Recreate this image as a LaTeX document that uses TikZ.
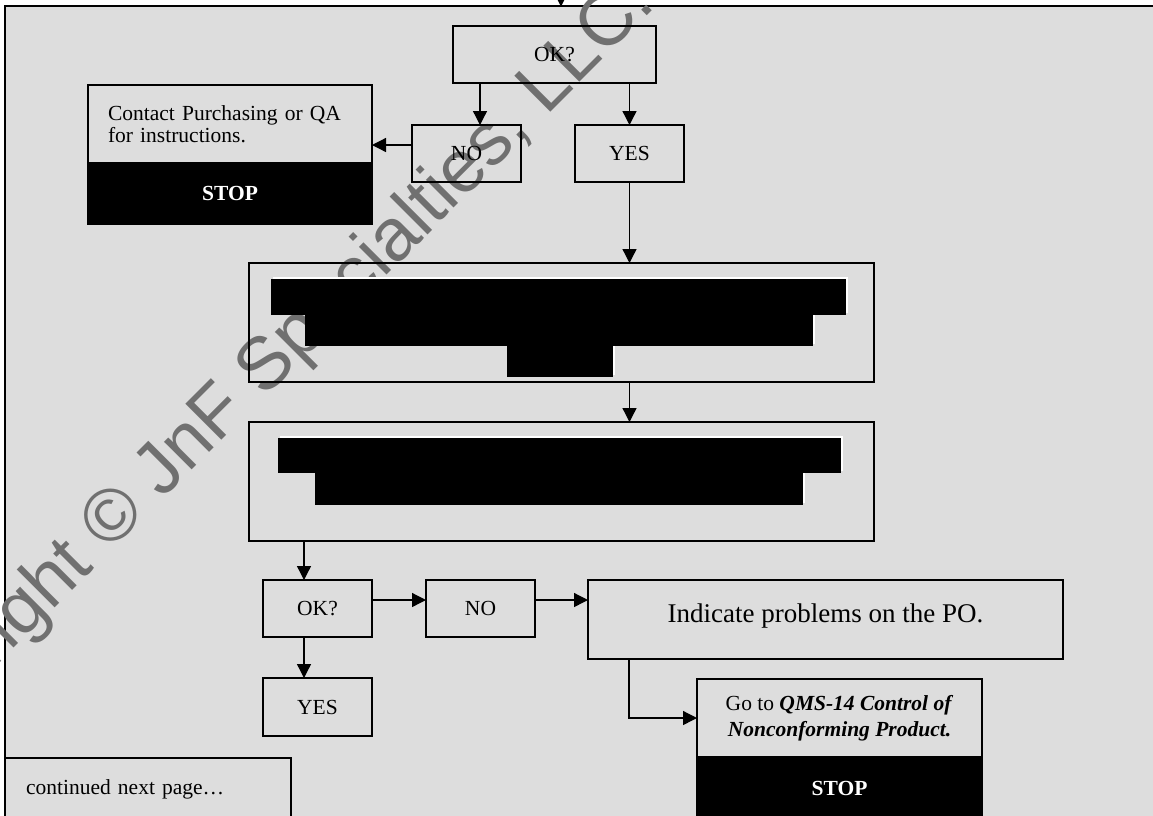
\documentclass[tikz,border=0pt]{standalone}
\usepackage{fontspec}
\setmainfont{Liberation Serif}
\newfontfamily\wmfont{Liberation Sans}
\usetikzlibrary{arrows.meta}
\definecolor{bggray}{RGB}{221,221,221}
\definecolor{wmgray}{RGB}{112,112,112}
\newcommand\bodyfont{\fontsize{21.5}{22}\selectfont}
\begin{document}
\begin{tikzpicture}[x=1pt,y=-1pt,
  box/.style={draw, line width=1.5pt, inner sep=0pt, outer sep=0pt, font=\bodyfont},
  smallbox/.style={box, minimum width=109pt, minimum height=57pt},
  blackbox/.style={draw, fill=black, text=white, line width=1.5pt, inner sep=0pt, outer sep=0pt, font=\bodyfont\bfseries},
  arr/.style={line width=1.3pt, -{Triangle[length=14pt,width=14pt]}},
  shade/.style={fill=white},
  redact/.style={fill=black}]
\useasboundingbox (0,0) rectangle (1153,815);
\clip (0,0) rectangle (1153,815);
\fill[white] (0,0) rectangle (1153,815);
\fill[bggray] (5,6) rectangle (1160,820);
\draw[line width=1.5pt] (5,820) -- (5,6) -- (1160,6);

% watermark
\node[anchor=base west, rotate=45, inner sep=0pt, text=wmgray,
      font=\wmfont\fontsize{74}{74}\selectfont] (wm) at (-129,791.5)
      {Copyright © JnF Specialties, LLC.};

% top section
\node[box, minimum width=203pt, minimum height=57pt] (ok1) at (554.5,54.5) {OK?};
\node[smallbox] (no1) at (466.5,153.5) {NO};
\node[smallbox] (yes1) at (629.5,153.5) {YES};
\node[box, text width=244pt, inner xsep=20pt, align=left, minimum height=78pt] (cont) at (230,124)
  {Contact Purchasing or QA\\for instructions.};
\node[blackbox, minimum width=284pt, minimum height=61pt, anchor=north] (cstop) at (cont.south) {STOP};

% big boxes
\node[box, minimum width=625pt, minimum height=119pt] (big1) at (561.5,322.5) {};
\node[box, minimum width=625pt, minimum height=119pt] (big2) at (561.5,481.5) {};
\foreach \a/\b/\c/\d in {271/279/846/315, 305/315/813/346, 507/346/613/377,
                         278/438/841/473, 315/473/803/505}
  \fill[shade] (\a+2,\b-2) rectangle (\c+2,\d-2);
\foreach \a/\b/\c/\d in {271/279/846/315, 305/315/813/346, 507/346/613/377,
                         278/438/841/473, 315/473/803/505}
  \fill[redact] (\a,\b) rectangle (\c,\d);

% bottom section
\node[smallbox] (ok2) at (317.5,608.5) {OK?};
\node[smallbox, minimum height=58pt] (yes2) at (317.5,707) {YES};
\node[smallbox] (no2) at (480.5,608.5) {NO};
\node[box, minimum width=475pt, minimum height=79pt, font=\fontsize{27}{30}\selectfont,
      text height=18.4pt, text depth=13pt] (ind) at (825.5,619.5) {Indicate problems on the PO.};
\node[box, minimum width=285pt, minimum height=78pt, align=center,
      font=\fontsize{21.5}{26}\selectfont] (goto) at (839.5,718)
  {Go to \textbf{\textit{QMS-14 Control of}}\\\textbf{\textit{Nonconforming Product.}}};
\node[blackbox, minimum width=285pt, minimum height=62pt, anchor=north] (gstop) at (goto.south) {STOP};
\node[box, anchor=north west, text width=244pt, inner xsep=21pt, align=left,
      minimum height=72pt, text height=14.7pt, text depth=14.7pt] (next) at (5,758)
  {continued next page…};

% connectors
\coordinate (prev) at (561,-8);
\coordinate (prevend) at (561,6.5);
\draw[arr] (prev) -- (prevend);
\coordinate (nox) at (480,0);
\draw[arr] (ok1.south -| nox) -- (no1.north -| nox);
\draw[arr] (ok1.south -| yes1.north) -- (yes1.north);
\coordinate (noy) at (0,145);
\draw[arr] (no1.west |- noy) -- (cont.east |- noy);
\draw[arr] (yes1.south) -- (yes1.south |- big1.north);
\draw[arr] (yes1.south |- big1.south) -- (yes1.south |- big2.north);
\coordinate (okx) at (304,0);
\draw[arr] (big2.south -| okx) -- (ok2.north -| okx);
\draw[arr] (ok2.south -| okx) -- (yes2.north -| okx);
\coordinate (rowy) at (0,600);
\draw[arr] (ok2.east |- rowy) -- (no2.west |- rowy);
\draw[arr] (no2.east |- rowy) -- (ind.west |- rowy);
\coordinate (indx) at (629,0);
\draw[arr] (ind.south -| indx) |- (goto.west);
\end{tikzpicture}
\end{document}
